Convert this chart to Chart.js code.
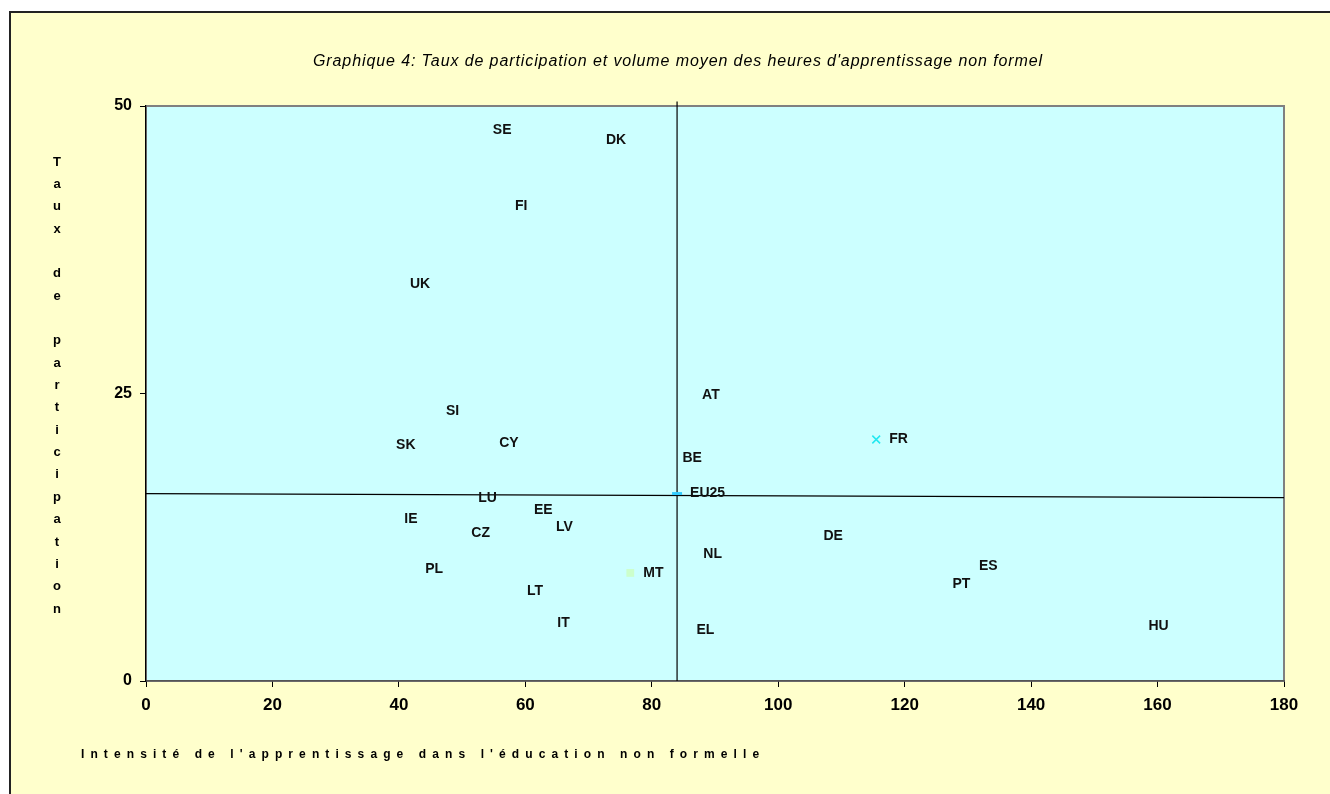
<!DOCTYPE html>
<html>
<head>
<meta charset="utf-8">
<script src="https://cdn.jsdelivr.net/npm/chart.js@4.4.1/dist/chart.umd.min.js"></script>
<style>
  html, body { margin: 0; padding: 0; background: #fff; }
  #wrap { position: absolute; left: 0; top: 0; width: 1330px; height: 794px; }
</style>
</head>
<body>
<div id="wrap"><canvas id="c" width="1330" height="794"></canvas></div>
<script>
// pays, intensité (heures) et taux de participation (%)
const pays = ["SE", "DK", "FI", "UK", "SI", "SK", "CY", "LU", "IE", "CZ", "EE", "LV", "PL", "LT", "IT",
  "MT", "EU25", "AT", "BE", "NL", "EL", "DE", "FR", "ES", "PT", "HU"];
const intensite = [52.8, 70.7, 56.3, 39.7, 45.4, 37.5, 53.8, 50.5, 38.8, 49.4, 59.3, 62.8, 42.1, 58.2, 63.0,
  76.6, 84.0, 85.9, 82.8, 86.1, 85.0, 105.1, 115.5, 129.7, 125.5, 156.5];
const taux = [47.9, 47.0, 41.3, 34.5, 23.5, 20.5, 20.7, 15.9, 14.1, 12.9, 14.9, 13.4, 9.7, 7.8, 5.0,
  9.4, 16.3, 24.9, 19.4, 11.0, 4.4, 12.6, 21.0, 10.0, 8.4, 4.8];

// lignes de référence (moyenne EU25)
const ligneH = [{ x: 0, y: 16.3 }, { x: 180, y: 15.95 }];
const ligneV = [{ x: 84, y: 0 }, { x: 84, y: 50.4 }];

const titre = "Graphique 4: Taux de participation et volume moyen des heures d'apprentissage non formel";
const titreY = "Taux de participation";
const titreX = "Intensité de l'apprentissage dans l'éducation non formelle";

// marqueurs visibles seulement pour quelques pays
const marqueurs = {
  FR: { style: "crossRot", color: "#22E8F0", r: 5.5, w: 1.5 },
  MT: { style: "rect", color: "#CCFFCC", r: 5.5, w: 0 },
  EU25: { style: "line", color: "#33CCFF", r: 5, w: 3 }
};

const FONT = "'Liberation Sans', Arial, sans-serif";

const fond = {
  id: "fond",
  beforeDraw(chart) {
    const ctx = chart.ctx, a = chart.chartArea;
    ctx.save();
    ctx.fillStyle = "#FFFFCC";
    ctx.fillRect(10, 12, 1330, 794);
    ctx.strokeStyle = "#222";
    ctx.lineWidth = 2;
    ctx.beginPath();
    ctx.moveTo(10, 800); ctx.lineTo(10, 12); ctx.lineTo(1332, 12);
    ctx.stroke();
    ctx.fillStyle = "#CCFFFF";
    ctx.fillRect(a.left, a.top, a.right - a.left, a.bottom - a.top);
    ctx.strokeStyle = "#808080";
    ctx.lineWidth = 2;
    ctx.strokeRect(a.left, a.top, a.right - a.left, a.bottom - a.top);
    ctx.restore();
  },
  afterDraw(chart) {
    const ctx = chart.ctx;
    ctx.save();
    ctx.fillStyle = "#000";
    ctx.font = "italic 16px " + FONT;
    ctx.textAlign = "center";
    ctx.textBaseline = "middle";
    ctx.letterSpacing = "0.9px";
    ctx.fillText(titre, 678, 62);
    ctx.letterSpacing = "0px";

    ctx.font = "bold 13px " + FONT;
    titreY.split("").forEach((ch, i) => ctx.fillText(ch, 57, 162 + i * 22.35));

    ctx.font = "bold 12px " + FONT;
    ctx.textAlign = "left";
    ctx.letterSpacing = "6.1px";
    ctx.fillText(titreX, 81, 755);
    ctx.restore();
  }
};

const etiquettes = {
  id: "etiquettes",
  afterDatasetsDraw(chart) {
    const ctx = chart.ctx;
    const meta = chart.getDatasetMeta(0);
    ctx.save();
    ctx.font = "bold 14px " + FONT;
    ctx.fillStyle = "#111";
    ctx.textBaseline = "middle";
    ctx.textAlign = "left";
    meta.data.forEach((pt, i) => ctx.fillText(pays[i], pt.x + 13, pt.y));
    ctx.restore();
  }
};

const m = (ctx, key, def) => {
  const s = marqueurs[pays[ctx.dataIndex]];
  return s ? s[key] : def;
};

new Chart(document.getElementById("c"), {
  type: "scatter",
  data: {
    datasets: [
      {
        data: pays.map((p, i) => ({ x: intensite[i], y: taux[i] })),
        pointStyle: ctx => m(ctx, "style", "circle"),
        pointRadius: ctx => m(ctx, "r", 0),
        pointHoverRadius: ctx => m(ctx, "r", 0),
        backgroundColor: ctx => m(ctx, "color", "transparent"),
        borderColor: ctx => m(ctx, "color", "transparent"),
        borderWidth: ctx => m(ctx, "w", 0),
        order: 0
      },
      {
        data: ligneH, showLine: true, borderColor: "#000", borderWidth: 1.2,
        pointRadius: 0, order: 1
      },
      {
        data: ligneV, showLine: true, borderColor: "#000", borderWidth: 1.2,
        pointRadius: 0, clip: false, order: 1
      }
    ]
  },
  options: {
    responsive: false,
    animation: false,
    layout: { padding: { left: 0, top: 106, right: 46, bottom: 0 } },
    plugins: { legend: { display: false }, tooltip: { enabled: false }, title: { display: false } },
    scales: {
      x: {
        type: "linear", min: 0, max: 180,
        ticks: { stepSize: 20, color: "#000", font: { family: FONT, size: 17, weight: "bold" }, padding: 8 },
        grid: { drawOnChartArea: false, drawTicks: true, tickLength: 6, color: "#000" },
        border: { color: "#555", width: 1.5 },
        afterFit: s => { s.height = 113; }
      },
      y: {
        min: 0, max: 50,
        ticks: { stepSize: 25, color: "#000", font: { family: FONT, size: 16, weight: "bold" }, padding: 8 },
        grid: { drawOnChartArea: false, drawTicks: true, tickLength: 6, color: "#000" },
        border: { color: "#000", width: 1.2 },
        afterFit: s => { s.width = 146; }
      }
    }
  },
  plugins: [fond, etiquettes]
});
</script>
</body>
</html>
